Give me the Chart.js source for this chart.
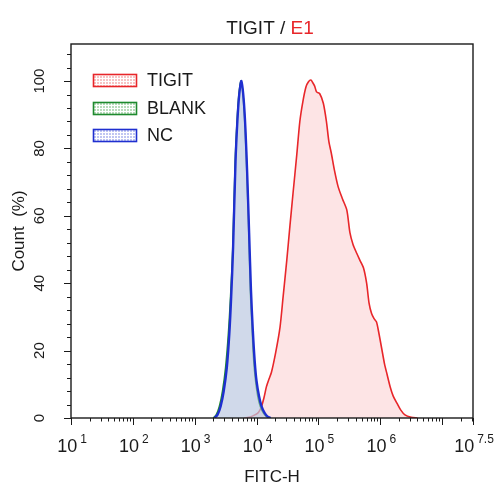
<!DOCTYPE html>
<html>
<head>
<meta charset="utf-8">
<script src="https://cdn.jsdelivr.net/npm/chart.js@4"></script>
<style>
  body { margin: 0; background: #fff; }
  #wrap { width: 496px; height: 486px; }
</style>
</head>
<body>
<div id="wrap"><canvas id="histChart" width="496" height="486"></canvas></div>
<script>
// x values are log10(FITC-H), y values are Count (%)
const tigitX = [3.80, 3.90, 3.98, 4.03, 4.08, 4.12, 4.16, 4.20, 4.24, 4.31, 4.38, 4.43, 4.49, 4.54, 4.59, 4.65, 4.70, 4.75, 4.80, 4.84, 4.88, 4.91, 4.94, 4.97, 5.02, 5.08, 5.13, 5.17, 5.21, 5.26, 5.32, 5.39, 5.46, 5.51, 5.56, 5.62, 5.68, 5.73, 5.78, 5.82, 5.86, 5.90, 5.94, 5.98, 6.02, 6.07, 6.11, 6.16, 6.21, 6.27, 6.33, 6.40, 6.50, 6.60];
const tigitY = [0, 0.3, 1.0, 1.6, 3.4, 6, 9.3, 11.5, 13.5, 19.5, 27, 36, 47, 57, 66.7, 78, 88, 94, 98.3, 99.8, 100.3, 99.5, 98.5, 96.8, 96.3, 93.4, 88, 82, 78.5, 73.5, 68.6, 65, 61.7, 55, 51.5, 48.9, 46.5, 44.5, 40, 34, 31, 29.5, 28.5, 25, 21, 16, 13, 9.3, 6.5, 4.4, 2.4, 0.9, 0.2, 0];

const blankX = [3.30, 3.35, 3.40, 3.45, 3.50, 3.545, 3.58, 3.615, 3.655, 3.685, 3.715, 3.75, 3.785, 3.815, 3.845, 3.875, 3.90, 3.93, 3.955, 3.985, 4.02, 4.06, 4.11, 4.16, 4.21];
const blankY = [0, 1, 3.5, 8, 15, 25, 36, 50, 76, 88, 96, 100, 95, 86, 72, 55, 38, 26, 17, 11, 6.5, 3.5, 1.5, 0.4, 0];

const ncX = [3.32, 3.37, 3.42, 3.47, 3.52, 3.56, 3.59, 3.62, 3.66, 3.69, 3.72, 3.755, 3.79, 3.82, 3.85, 3.88, 3.91, 3.94, 3.97, 4.00, 4.04, 4.08, 4.13, 4.18, 4.23];
const ncY = [0, 1, 3.5, 8, 15, 25, 36, 50, 76, 88, 96, 100, 95, 86, 72, 55, 38, 26, 17, 11, 6.5, 3.5, 1.5, 0.4, 0];

const xMajor = [1, 2, 3, 4, 5, 6, 7.5];
const xMajorLabels = ["1", "2", "3", "4", "5", "6", "7.5"];
const yMajor = [0, 20, 40, 60, 80, 100];

const legendNames = ["TIGIT", "BLANK", "NC"];
const legendColors = ["#e8262a", "#1e8a2e", "#1f2fd0"];
const legendTints = ["#f7c3c4", "#b9dcbc", "#c0c6f2"];

const font = "'Liberation Sans', Arial, sans-serif";

function pts(xs, ys) {
    return xs.map((v, i) => ({ x: v, y: ys[i] }));
}

function legendPattern(ctx, tint) {
    const c = document.createElement("canvas");
    c.width = 3; c.height = 3;
    const p = c.getContext("2d");
    p.fillStyle = tint;
    p.fillRect(0, 0, 3, 3);
    p.fillStyle = "#ffffff";
    p.fillRect(0, 0, 1, 3);
    p.fillRect(0, 0, 3, 1);
    return ctx.createPattern(c, "repeat");
}

const decor = {
    id: "decor",
    afterDraw(chart) {
        const { ctx, chartArea: a, scales: { x, y } } = chart;
        ctx.save();
        ctx.strokeStyle = "#1a1a1a";
        ctx.lineWidth = 1.4;
        ctx.strokeRect(a.left, a.top, a.right - a.left, a.bottom - a.top);

        // x ticks (log style)
        ctx.lineWidth = 1;
        ctx.beginPath();
        for (let d = 1; d <= 7; d++) {
            for (let k = 1; k <= 9; k++) {
                const v = d + Math.log10(k);
                if (v > 7.5) continue;
                const px = Math.round(x.getPixelForValue(v)) + 0.5;
                const len = k === 1 ? 7 : 3.5;
                ctx.moveTo(px, a.bottom);
                ctx.lineTo(px, a.bottom + len);
            }
        }
        const pEnd = Math.round(x.getPixelForValue(7.5)) + 0.5;
        ctx.moveTo(pEnd, a.bottom);
        ctx.lineTo(pEnd, a.bottom + 7);
        // y ticks
        for (let v = 0; v <= 108; v += 4) {
            const py = Math.round(y.getPixelForValue(v)) + 0.5;
            const len = v % 20 === 0 ? 7 : 4;
            ctx.moveTo(a.left, py);
            ctx.lineTo(a.left - len, py);
        }
        ctx.stroke();

        // x tick labels 10^n
        ctx.fillStyle = "#1a1a1a";
        ctx.textBaseline = "alphabetic";
        ctx.textAlign = "left";
        xMajor.forEach((v, i) => {
            ctx.font = "18px " + font;
            const wBase = ctx.measureText("10").width;
            ctx.font = "12px " + font;
            const wExp = ctx.measureText(xMajorLabels[i]).width;
            const gap = 3;
            const cx = x.getPixelForValue(v) + 1;
            const left = cx - (wBase + gap + wExp) / 2;
            ctx.font = "18px " + font;
            ctx.fillText("10", left, 452);
            ctx.font = "12px " + font;
            ctx.fillText(xMajorLabels[i], left + wBase + gap, 443);
        });

        // y tick labels, rotated
        ctx.font = "15px " + font;
        ctx.textAlign = "center";
        ctx.textBaseline = "middle";
        yMajor.forEach(v => {
            ctx.save();
            ctx.translate(40, y.getPixelForValue(v));
            ctx.rotate(-Math.PI / 2);
            ctx.fillText(String(v), 0, 0);
            ctx.restore();
        });

        // axis titles
        ctx.font = "17px " + font;
        ctx.textBaseline = "alphabetic";
        ctx.fillText("FITC-H", (a.left + a.right) / 2, 482);
        ctx.save();
        ctx.translate(24, (a.top + a.bottom) / 2);
        ctx.rotate(-Math.PI / 2);
        ctx.fillText("Count  (%)", 0, 0);
        ctx.restore();

        // title with red E1
        ctx.font = "19px " + font;
        const t1 = "TIGIT / ", t2 = "E1";
        const w1 = ctx.measureText(t1).width, w2 = ctx.measureText(t2).width;
        const tl = 270 - (w1 + w2) / 2;
        ctx.textAlign = "left";
        ctx.fillStyle = "#1a1a1a";
        ctx.fillText(t1, tl, 34);
        ctx.fillStyle = "#e8262a";
        ctx.fillText(t2, tl + w1, 34);

        // legend
        ctx.font = "18px " + font;
        ctx.textBaseline = "middle";
        const boxTops = [74, 102, 129];
        legendNames.forEach((name, i) => {
            const top = boxTops[i];
            ctx.fillStyle = legendPattern(ctx, legendTints[i]);
            ctx.fillRect(93, top, 44, 12);
            ctx.strokeStyle = legendColors[i];
            ctx.lineWidth = 1.6;
            ctx.strokeRect(93.5, top + 0.5, 43, 12);
            ctx.fillStyle = "#1a1a1a";
            ctx.fillText(name, 147, top + 7);
        });
        ctx.restore();
    }
};

new Chart(document.getElementById("histChart"), {
    type: "line",
    data: {
        datasets: [{
            label: "TIGIT",
            data: pts(tigitX, tigitY),
            borderColor: "#e8262a",
            backgroundColor: "rgba(252, 205, 207, 0.55)",
            borderWidth: 1.6,
            fill: "origin",
            tension: 0.25,
            order: 3
        }, {
            label: "BLANK",
            data: pts(blankX, blankY),
            borderColor: "#1e8a2e",
            backgroundColor: "rgba(195, 208, 228, 0.4)",
            borderWidth: 1.6,
            fill: "origin",
            tension: 0.3,
            order: 2
        }, {
            label: "NC",
            data: pts(ncX, ncY),
            borderColor: "#1f2fd0",
            backgroundColor: "rgba(185, 200, 226, 0.5)",
            borderWidth: 2.4,
            fill: "origin",
            tension: 0.3,
            order: 1
        }]
    },
    options: {
        responsive: false,
        animation: false,
        layout: { padding: { left: 71, right: 23, top: 44, bottom: 68 } },
        elements: { point: { radius: 0 } },
        plugins: { legend: { display: false }, tooltip: { enabled: false } },
        scales: {
            x: {
                type: "linear", min: 1, max: 7.5,
                grid: { display: false, drawTicks: false },
                border: { display: false },
                ticks: { display: false }
            },
            y: {
                min: 0, max: 111,
                grid: { display: false, drawTicks: false },
                border: { display: false },
                ticks: { display: false }
            }
        }
    },
    plugins: [decor]
});
</script>
</body>
</html>
